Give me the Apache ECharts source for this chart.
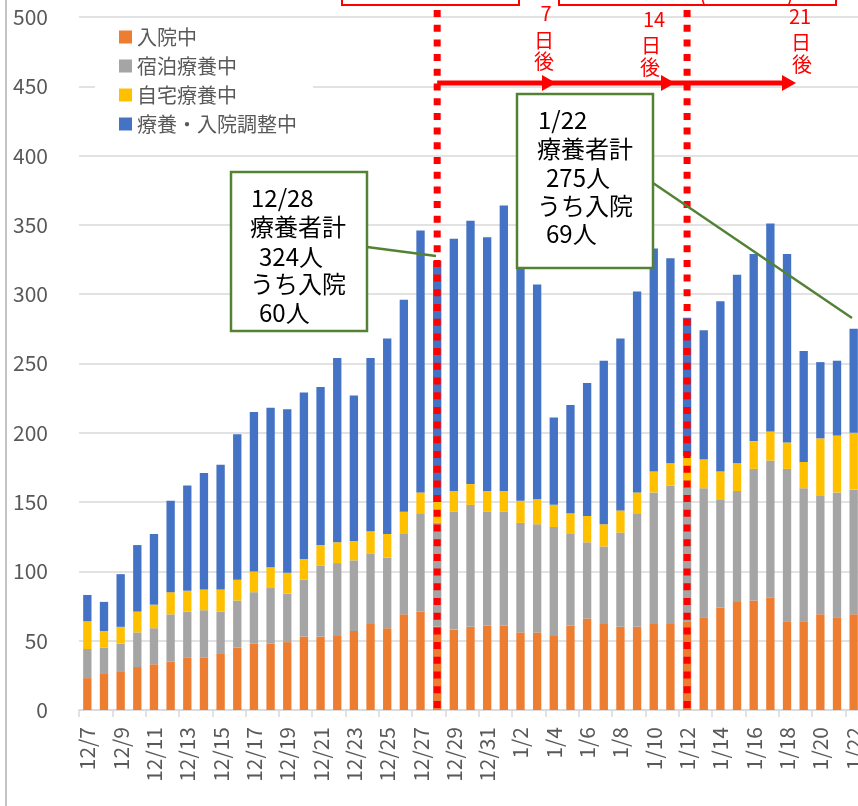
<!DOCTYPE html>
<html><head><meta charset="utf-8">
<script src="https://cdn.jsdelivr.net/npm/echarts@6/dist/echarts.min.js"></script>
<style>html,body{margin:0;padding:0;background:#fff}#c{width:858px;height:806px}</style>
</head><body><div id="c"></div>
<script>
const categories = ['12/7','12/8','12/9','12/10','12/11','12/12','12/13','12/14','12/15','12/16','12/17','12/18','12/19','12/20','12/21','12/22','12/23','12/24','12/25','12/26','12/27','12/28','12/29','12/30','12/31',
  '1/1','1/2','1/3','1/4','1/5','1/6','1/7','1/8','1/9','1/10','1/11','1/12','1/13','1/14','1/15','1/16','1/17','1/18','1/19','1/20','1/21','1/22'];
const seriesNames = ['入院中','宿泊療養中','自宅療養中','療養・入院調整中'];
const hospital = [23,26,28,31,33,35,38,38,41,45,48,48,49,53,53,54,57,62,59,69,71,60,58,60,61,
  61,56,56,54,61,66,62,60,60,62,62,64,67,74,78,79,81,64,64,69,67,69];
const hotel = [21,19,20,25,26,34,33,34,30,34,37,40,35,41,51,52,51,51,51,58,71,75,85,88,82,
  82,79,78,78,66,55,56,68,82,95,100,97,93,78,80,95,99,110,96,86,90,90];
const home = [20,12,12,15,17,16,15,15,16,15,15,15,15,15,15,15,14,16,17,16,15,15,15,15,15,
  15,16,18,16,15,19,16,16,15,15,16,22,21,20,20,20,21,19,19,41,41,41];
const adjusting = [19,21,38,48,51,66,76,84,90,105,115,115,118,120,114,133,105,125,141,153,189,174,182,190,183,
  206,174,155,63,78,96,118,124,145,161,148,100,93,123,136,135,150,136,80,55,54,75];
const yTicks = {min: 0, max: 500, interval: 50};
const colors = ['#ED7D31','#A5A5A5','#FFC000','#4472C4'];
const FONT = '"Noto Sans CJK JP", "Noto Sans", sans-serif';

const chart = echarts.init(document.getElementById('c'), null, {renderer: 'canvas'});
const values = [hospital, hotel, home, adjusting];
chart.setOption({
  animation: false,
  textStyle: {fontFamily: FONT},
  grid: {left: 79, top: 17, width: 783, height: 693, containLabel: false, outerBoundsMode: 'none'},
  legend: {
    orient: 'vertical', left: 95, top: 22, selectedMode: false,
    backgroundColor: '#ffffff', padding: [5, 16, 5, 24],
    itemWidth: 13, itemHeight: 13, itemGap: 9, icon: 'rect',
    textStyle: {fontSize: 20, lineHeight: 20, color: '#595959', fontFamily: FONT},
    data: seriesNames
  },
  xAxis: {
    type: 'category', data: categories, boundaryGap: true,
    axisLine: {lineStyle: {color: '#d9d9d9', width: 1.5}},
    axisTick: {show: true, interval: 1, length: 7, lineStyle: {color: '#d9d9d9', width: 1.5}},
    axisLabel: {interval: 1, rotate: 90, fontSize: 21, color: '#595959', margin: 17, fontFamily: FONT},
    splitLine: {show: false}
  },
  yAxis: {
    type: 'value', min: yTicks.min, max: yTicks.max, interval: yTicks.interval,
    axisLine: {show: false}, axisTick: {show: false},
    axisLabel: {fontSize: 21, color: '#595959', margin: 31, fontFamily: FONT},
    splitLine: {lineStyle: {color: '#d9d9d9', width: 1.5}}
  },
  series: seriesNames.map((n, i) => ({
    name: n, type: 'bar', stack: 'total', data: values[i], barWidth: '50%',
    itemStyle: {color: colors[i]}, emphasis: {disabled: true}
  }))
});

const xA = chart.convertToPixel({xAxisIndex: 0}, '12/28');
const xB = chart.convertToPixel({xAxisIndex: 0}, '1/12');
const red = '#FF0000', green = '#548235';
function txt(t, x, y, size, color, align) {
  return {type: 'text', z: 20, style: {text: t, x: x, y: y, fill: color, fontSize: size, fontFamily: FONT,
    textAlign: align || 'left', textVerticalAlign: 'middle'}};
}
const g = [];
g.push({type: 'line', z: 5, shape: {x1: 6, y1: 0, x2: 6, y2: 806}, style: {stroke: '#c4c4c4', lineWidth: 2}});
[xA, xB].forEach(x => g.push({type: 'line', z: 10, shape: {x1: x, y1: 10, x2: x, y2: 714},
  style: {stroke: red, lineWidth: 7, lineDash: [7, 7.7], lineCap: 'butt'}}));
g.push({type: 'rect', z: 10, shape: {x: 342, y: -10, width: 177, height: 15}, style: {fill: null, stroke: red, lineWidth: 2}});
g.push({type: 'rect', z: 10, shape: {x: 559, y: -10, width: 277, height: 15}, style: {fill: null, stroke: red, lineWidth: 2}});
g.push({type: 'text', z: 10, style: {text: '(', x: 703, y: 5, fill: red, fontSize: 22, fontFamily: FONT, textAlign: 'center', textVerticalAlign: 'bottom'}});
g.push({type: 'text', z: 10, style: {text: ')', x: 790, y: 5, fill: red, fontSize: 22, fontFamily: FONT, textAlign: 'center', textVerticalAlign: 'bottom'}});
// arrow
g.push({type: 'line', z: 10, shape: {x1: xA, y1: 83, x2: 784, y2: 83}, style: {stroke: red, lineWidth: 5}});
[556, 675, 796].forEach(t => g.push({type: 'polygon', z: 10, shape: {points: [[t - 14, 75], [t, 83], [t - 14, 91]]}, style: {fill: red}}));
[['7', 546, 13], ['日', 544, 40], ['後', 544, 61], ['14', 654, 19], ['日', 651, 45], ['後', 650, 67], ['21', 800, 16], ['日', 801, 42], ['後', 802, 64]]
  .forEach(a => g.push(txt(a[0], a[1], a[2], 20, red, 'center')));
// callouts
g.push({type: 'line', z: 11, shape: {x1: 367, y1: 247, x2: 436, y2: 256}, style: {stroke: green, lineWidth: 2.5}});
g.push({type: 'line', z: 11, shape: {x1: 653, y1: 183, x2: 852, y2: 318}, style: {stroke: green, lineWidth: 2.5}});
g.push({type: 'rect', z: 15, shape: {x: 231, y: 172, width: 136, height: 159}, style: {fill: '#fff', stroke: green, lineWidth: 2.5}});
g.push({type: 'rect', z: 15, shape: {x: 517, y: 94, width: 136, height: 174}, style: {fill: '#fff', stroke: green, lineWidth: 2.5}});
[['12/28', 251, 198], ['療養者計', 250, 227], ['324人', 259, 257], ['うち入院', 250, 284], ['60人', 259, 313],
 ['1/22', 538, 120], ['療養者計', 537, 149], ['275人', 546, 178], ['うち入院', 537, 206], ['69人', 546, 234]]
  .forEach(a => g.push(txt(a[0], a[1], a[2], 24, '#000', 'left')));
chart.setOption({graphic: g});
</script></body></html>
